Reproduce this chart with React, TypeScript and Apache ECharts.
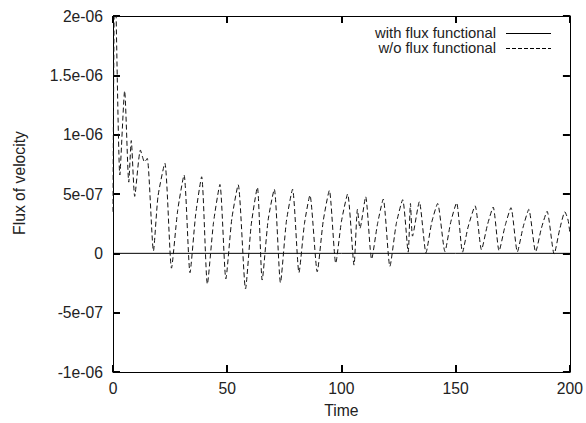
import React, { useEffect, useRef } from "react";
import * as echarts from "echarts";

const timeWo = [
  0, 0.8, 3.0, 5.1, 6.9, 8.0, 9.5, 12.0, 13.8, 15.0, 17.7, 19.7, 22.7, 25.6, 28.3, 31.1, 33.7, 36.2, 38.8,
  41.3, 44.0, 46.8, 49.4, 52.0, 54.8, 58.0, 60.5, 63.2, 65.3, 67.9, 70.6, 73.3, 75.9, 78.6, 81.4, 83.8,
  86.2, 89.4, 92.0, 94.7, 97.5, 100.0, 102.7, 105.5, 107.0, 108.1, 110.6, 113.2, 115.8, 118.3, 121.2,
  124.0, 126.8, 129.2, 130.2, 131.1, 134.1, 137.0, 139.5, 142.1, 145.3, 147.8, 150.4, 153.0, 155.4,
  158.5, 161.3, 163.9, 166.4, 169.0, 171.6, 174.2, 177.0, 179.5, 182.0, 185.0, 187.5, 190.0, 193.1,
  195.5, 197.8, 199.2, 200.0,
];
const fluxWo = [
  3.5e-7, 2.5e-6, 6.6e-7, 1.37e-6, 6.0e-7, 9.5e-7, 4.8e-7, 8.7e-7, 7.7e-7, 8.0e-7, 2e-8, 4.8e-7, 7.6e-7,
  -1.25e-7, 3.6e-7, 6.6e-7, -1.63e-7, 3.3e-7, 6.45e-7, -2.6e-7, 2.6e-7, 5.8e-7, -2.15e-7, 2.9e-7, 5.78e-7,
  -3.0e-7, 2.4e-7, 5.56e-7, -2.25e-7, 2.8e-7, 5.4e-7, -2.48e-7, 2.7e-7, 5.4e-7, -1.63e-7, 2.5e-7, 4.9e-7,
  -1.55e-7, 2.7e-7, 5.3e-7, -8.4e-8, 2.7e-7, 5.0e-7, -9.9e-8, 3.7e-7, 2.1e-7, 4.77e-7, -5e-8, 2.5e-7,
  4.57e-7, -1.1e-7, 2.5e-7, 4.52e-7, 1e-8, 4.2e-7, 1.45e-7, 4.35e-7, 5e-9, 2.6e-7, 4.2e-7, 1.5e-8, 2.6e-7,
  4.26e-7, 1e-8, 2.2e-7, 4.0e-7, 3e-8, 2.4e-7, 3.9e-7, 2e-8, 2.3e-7, 3.85e-7, 1.2e-8, 2.2e-7, 3.7e-7,
  1.2e-8, 2.1e-7, 3.54e-7, -6e-9, 2.0e-7, 3.5e-7, 2.8e-7, 1.7e-7,
];
const timeWith = [0, 50, 100, 150, 200];
const fluxWith = [0, 0, 0, 0, 0];

const yTickLabels = ["-1e-06", "-5e-07", "0", "5e-07", "1e-06", "1.5e-06", "2e-06"];
const xTickLabels = ["0", "50", "100", "150", "200"];
const seriesNames = ["with flux functional", "w/o flux functional"];

const FONT = "'Liberation Sans', Arial, Helvetica, sans-serif";
const TXT = "#222";
const FS = 15.7;
const LFS = 14.8;

const mkLine = () => ({ show: true, onZero: false, lineStyle: { color: "#000", width: 1 } });
const mkTick = () => ({ show: true, inside: true, length: 7, lineStyle: { color: "#000", width: 2 } });

export default function App() {
  const ref = useRef<HTMLDivElement>(null);
  useEffect(() => {
    if (!ref.current) return;
    const chart = echarts.init(ref.current, null, { renderer: "svg" });
    const yMin = -1e-6, yMax = 2e-6, yInt = 5e-7;
    const xMin = 0, xMax = 200, xInt = 50;
    const yFmt = (v: number) => yTickLabels[Math.round((v - yMin) / yInt)] ?? "";
    const xFmt = (v: number) => xTickLabels[Math.round((v - xMin) / xInt)] ?? "";
    const label = () => ({ color: TXT, fontFamily: FONT, fontSize: FS });
    chart.setOption({
      animation: false,
      backgroundColor: "#fff",
      grid: { left: 113, right: 16, top: 16, bottom: 51 },
      xAxis: [
        {
          type: "value", min: xMin, max: xMax, interval: xInt, position: "bottom",
          axisLine: mkLine(), axisTick: mkTick(), splitLine: { show: false },
          axisLabel: { ...label(), margin: 8, formatter: xFmt },
          name: "Time", nameLocation: "middle", nameGap: 30,
          nameTextStyle: { color: TXT, fontFamily: FONT, fontSize: FS },
        },
        {
          type: "value", min: xMin, max: xMax, interval: xInt, position: "top",
          axisLine: mkLine(), axisTick: mkTick(), splitLine: { show: false },
          axisLabel: { show: false },
        },
      ],
      yAxis: [
        {
          type: "value", min: yMin, max: yMax, interval: yInt, position: "left",
          axisLine: mkLine(), axisTick: mkTick(), splitLine: { show: false },
          axisLabel: { ...label(), margin: 10, formatter: yFmt },
        },
        {
          type: "value", min: yMin, max: yMax, interval: yInt, position: "right",
          axisLine: mkLine(), axisTick: mkTick(), splitLine: { show: false },
          axisLabel: { show: false },
        },
      ],
      graphic: [
        {
          type: "text", x: 19, y: 183, rotation: Math.PI / 2,
          style: { text: "Flux of velocity", fill: TXT, font: `${FS}px ${FONT}`, align: "center", verticalAlign: "middle" },
        },
        {
          type: "text", x: 496, y: 32.5,
          style: { text: seriesNames[0], fill: TXT, font: `${LFS}px ${FONT}`, align: "right", verticalAlign: "middle" },
        },
        {
          type: "line", shape: { x1: 506, y1: 33.5, x2: 551, y2: 33.5 },
          style: { stroke: "#000", lineWidth: 1 },
        },
        {
          type: "text", x: 496, y: 48,
          style: { text: seriesNames[1], fill: TXT, font: `${LFS}px ${FONT}`, align: "right", verticalAlign: "middle" },
        },
        {
          type: "line", shape: { x1: 506, y1: 48.5, x2: 551, y2: 48.5 },
          style: { stroke: "#000", lineWidth: 1, lineDash: [4, 2] },
        },
      ],
      series: [
        {
          name: seriesNames[0], type: "line", xAxisIndex: 0, yAxisIndex: 0,
          data: timeWith.map((t, i) => [t, fluxWith[i]]),
          showSymbol: false, lineStyle: { color: "#000", width: 1 }, z: 2,
        },
        {
          name: seriesNames[1], type: "line", xAxisIndex: 0, yAxisIndex: 0,
          data: timeWo.map((t, i) => [t, fluxWo[i]]),
          showSymbol: false, smooth: 0.2, clip: true,
          lineStyle: { color: "#111", width: 1, type: [5, 3] }, z: 3,
        },
      ],
    });
    return () => chart.dispose();
  }, []);
  return <div ref={ref} style={{ width: 586, height: 423, position: "absolute", left: 0, top: 0 }} />;
}
